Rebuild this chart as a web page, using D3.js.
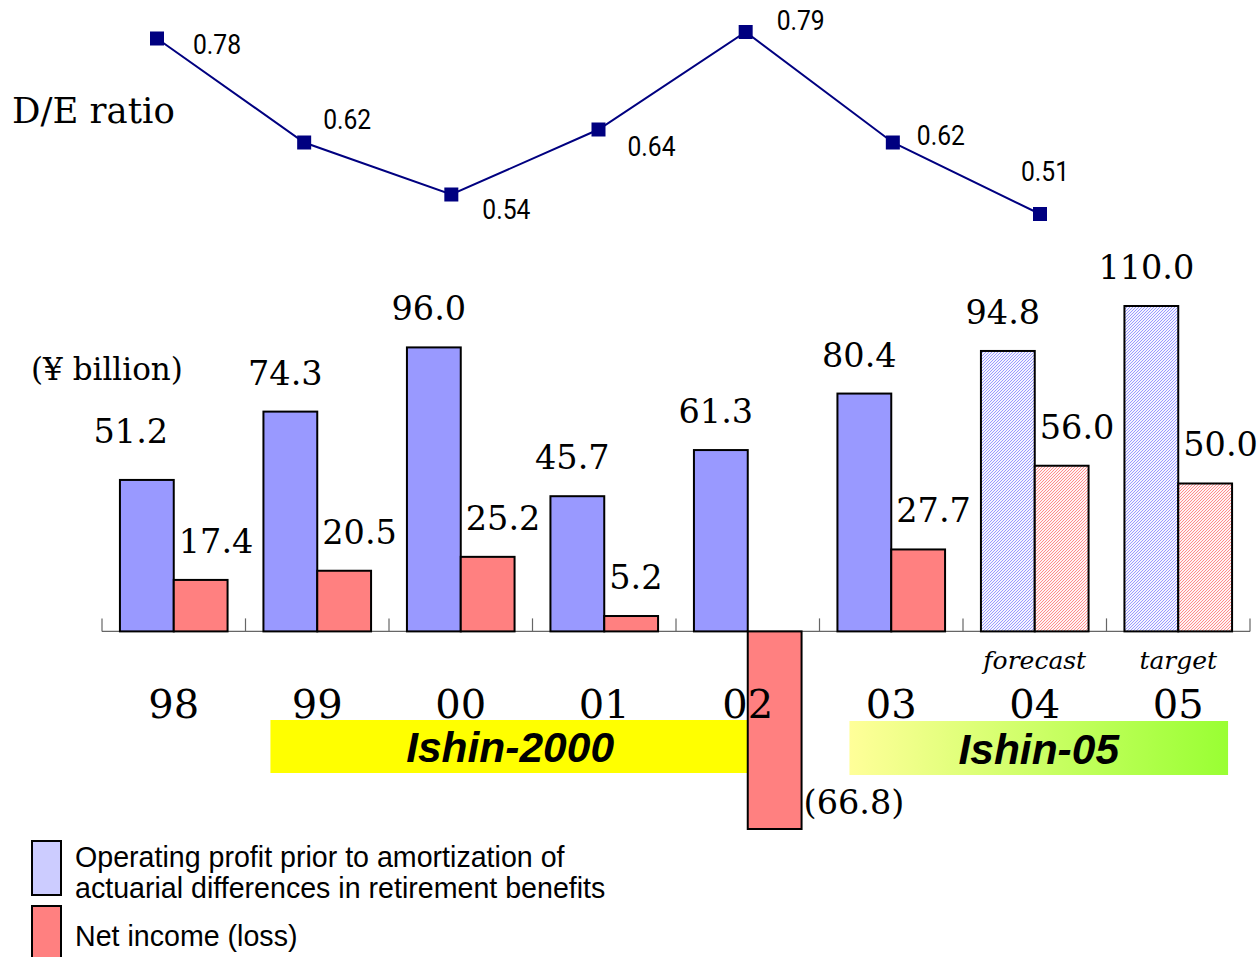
<!DOCTYPE html>
<html><head><meta charset="utf-8">
<script src="https://cdn.jsdelivr.net/npm/d3@7"></script>
<style>body{margin:0;background:#fff}svg{display:block}</style>
</head><body>
<svg id="chart" width="1258" height="957"></svg>
<script>
// ---- data ----
const categories = ["98","99","00","01","02","03","04","05"];
const operatingProfit = [51.2, 74.3, 96.0, 45.7, 61.3, 80.4, 94.8, 110.0];
const netIncome = [17.4, 20.5, 25.2, 5.2, -66.8, 27.7, 56.0, 50.0];
const opLabels = ["51.2","74.3","96.0","45.7","61.3","80.4","94.8","110.0"];
const netLabels = ["17.4","20.5","25.2","5.2","(66.8)","27.7","56.0","50.0"];
const deCategories = ["98","99","00","01","02","03","04"];
const deRatio = [0.78, 0.62, 0.54, 0.64, 0.79, 0.62, 0.51];
const deLabels = ["0.78","0.62","0.54","0.64","0.79","0.62","0.51"];
const notes = {"04":"forecast","05":"target"};
const projected = ["04","05"];
const seriesNames = ["Operating profit prior to amortization of\nactuarial differences in retirement benefits","Net income (loss)"];

// ---- layout ----
const svg = d3.select("#chart");
const defs = svg.append("defs");
function hatch(id, bg, color){
  const p = defs.append("pattern").attr("id", id).attr("patternUnits","userSpaceOnUse")
    .attr("width",3).attr("height",3);
  p.append("rect").attr("width",3).attr("height",3).attr("fill",bg);
  p.append("path").attr("d","M-1,1 l2,-2 M0,3 l3,-3 M2,4 l2,-2")
    .attr("stroke",color).attr("stroke-width",0.9);
}
hatch("hBlue","#f4f4ff","#9090ff");
hatch("hRed","#fff4f4","#ff8080");
const grad = defs.append("linearGradient").attr("id","gIshin05");
grad.append("stop").attr("offset","0%").attr("stop-color","#ffff99");
grad.append("stop").attr("offset","100%").attr("stop-color","#99ff33");

const x = d3.scaleBand().domain(categories).range([102,1250]).paddingInner(0.25).paddingOuter(0.125);
const x1 = d3.scaleBand().domain(["op","net"]).range([0, x.bandwidth()]);
const y = d3.scaleLinear().domain([-66.8, 110]).range([829, 306]);
const xl = d3.scalePoint().domain(deCategories).range([157, 1040]);
const yl = d3.scaleLinear().domain([0.51, 0.79]).range([214, 32]);

const serif = "'DejaVu Serif', serif";
const sans = "'Liberation Sans', Arial, sans-serif";

// banners
const b1x0 = x("99") + 7, b1x1 = x("02") + x.bandwidth()/2;
svg.append("rect").attr("x", b1x0).attr("y",720).attr("width", b1x1-b1x0).attr("height",53).attr("fill","#ffff00");
svg.append("text").attr("x",(b1x0+b1x1)/2 + 1).attr("y",762).attr("text-anchor","middle")
  .attr("font-family",sans).attr("font-weight","bold").attr("font-style","italic").attr("font-size",42.5).text("Ishin-2000");
const b2x0 = x("03") + 12, b2x1 = x("05") + x.bandwidth() - 4;
svg.append("rect").attr("x", b2x0).attr("y",721).attr("width", b2x1-b2x0).attr("height",54).attr("fill","url(#gIshin05)");
svg.append("text").attr("x",(b2x0+b2x1)/2).attr("y",764).attr("text-anchor","middle")
  .attr("font-family",sans).attr("font-weight","bold").attr("font-style","italic").attr("font-size",42.5).text("Ishin-05");

// axis
const y0 = y(0);
svg.append("line").attr("x1",x.range()[0]).attr("x2",x.range()[1]).attr("y1",y0).attr("y2",y0)
  .attr("stroke","#666").attr("stroke-width",1.2);
d3.range(categories.length+1).forEach(i=>{
  const tx = x.range()[0] + i*x.step();
  svg.append("line").attr("x1",tx).attr("x2",tx).attr("y1",y0-13).attr("y2",y0).attr("stroke","#666").attr("stroke-width",1.2);
});

// bars
const g = svg.append("g");
categories.forEach((c,i)=>{
  const isProj = projected.includes(c);
  const vo = operatingProfit[i], vn = netIncome[i];
  g.append("rect").attr("x", x(c)+x1("op")).attr("width", x1.bandwidth())
    .attr("y", y(Math.max(0,vo))).attr("height", Math.abs(y(vo)-y0))
    .attr("fill", isProj ? "url(#hBlue)" : "#9999ff").attr("stroke","#000").attr("stroke-width",2);
  g.append("rect").attr("x", x(c)+x1("net")).attr("width", x1.bandwidth())
    .attr("y", y(Math.max(0,vn))).attr("height", Math.abs(y(vn)-y0))
    .attr("fill", isProj ? "url(#hRed)" : "#ff8080").attr("stroke","#000").attr("stroke-width",2);
  // value labels
  svg.append("text").attr("x", x(c)+x1("op")+x1.bandwidth()/2 - (i===0?16:5)).attr("y", y(vo) - (i===0?37:27))
    .attr("text-anchor","middle").attr("font-family",serif).attr("font-size",33.5).text(opLabels[i]);
  if (vn >= 0) {
    svg.append("text").attr("x", x(c)+x1("net")+5).attr("y", y(vn) - 27)
      .attr("font-family",serif).attr("font-size",33.5).text(netLabels[i]);
  } else {
    svg.append("text").attr("x", x(c)+x1("net")+x1.bandwidth()+2).attr("y", y(vn) - 15)
      .attr("font-family",serif).attr("font-size",33.5).text(netLabels[i]);
  }
  // category label
  svg.append("text").attr("x", x(c)+x.bandwidth()/2).attr("y",718).attr("text-anchor","middle")
    .attr("font-family",serif).attr("font-size",40).text(c);
  if (notes[c]) {
    svg.append("text").attr("x", x(c)+x.bandwidth()/2).attr("y",669).attr("text-anchor","middle")
      .attr("font-family",serif).attr("font-style","italic").attr("font-size",25).text(notes[c]);
  }
});

// D/E ratio line
svg.append("path").datum(deRatio)
  .attr("d", d3.line().x((d,i)=>xl(deCategories[i])).y(d=>yl(d)))
  .attr("fill","none").attr("stroke","#000080").attr("stroke-width",2);
const deOffsets = [[36,5],[19,-24],[31,14],[29,16],[31,-12],[24,-8],[-19,-43]];
deRatio.forEach((v,i)=>{
  const px = xl(deCategories[i]), py = yl(v);
  svg.append("rect").attr("x",px-7).attr("y",py-7).attr("width",14).attr("height",14).attr("fill","#000080");
  svg.append("text").attr("transform",`translate(${px+deOffsets[i][0]},${py+deOffsets[i][1]}) scale(0.88,1)`)
    .attr("dy","0.36em")
    .attr("font-family","Roboto, sans-serif").attr("font-size",28).text(deLabels[i]);
});

// titles
svg.append("text").attr("x",12).attr("y",123).attr("font-family",serif).attr("font-size",35.5).text("D/E ratio");
svg.append("text").attr("x",31).attr("y",380).attr("font-family",serif).attr("font-size",31).text("(¥ billion)");

// legend
svg.append("rect").attr("x",32).attr("y",841).attr("width",29).attr("height",54).attr("fill","#ccccff").attr("stroke","#000").attr("stroke-width",2);
svg.append("rect").attr("x",32).attr("y",906).attr("width",29).attr("height",60).attr("fill","#ff8080").attr("stroke","#000").attr("stroke-width",2);
const l1 = seriesNames[0].split("\n");
svg.append("text").attr("x",75).attr("y",867).attr("font-family",sans).attr("font-size",28.6).text(l1[0]);
svg.append("text").attr("x",75).attr("y",898).attr("font-family",sans).attr("font-size",28.6).text(l1[1]);
svg.append("text").attr("x",75).attr("y",946).attr("font-family",sans).attr("font-size",28.6).text(seriesNames[1]);
</script>
</body></html>
